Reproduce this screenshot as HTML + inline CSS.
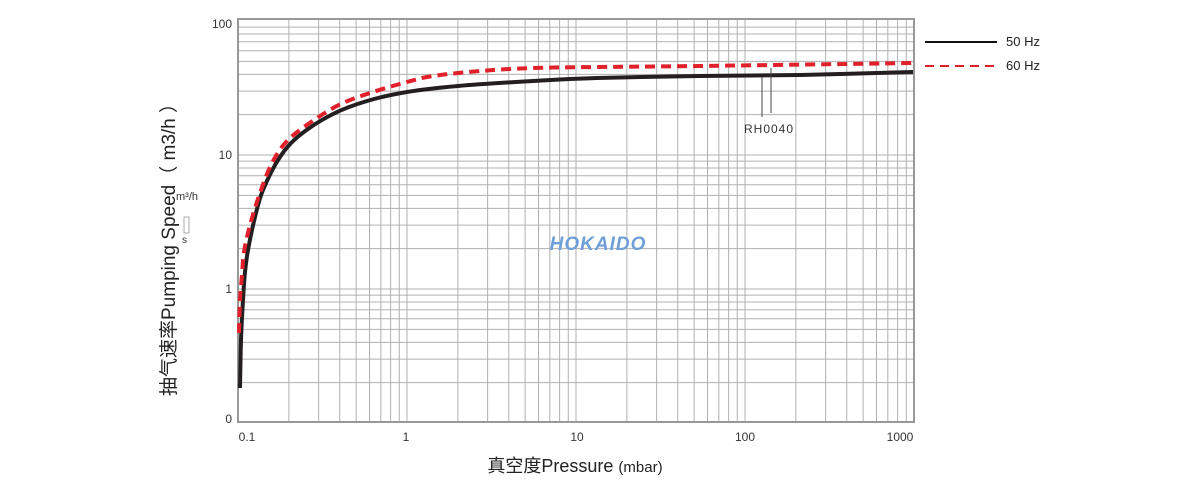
<!DOCTYPE html>
<html><head><meta charset="utf-8"><style>
html,body{margin:0;padding:0;background:#fff;}
svg{display:block;font-family:"Liberation Sans","Noto Sans CJK SC",sans-serif;}
</style></head><body>
<svg id="s" width="1200" height="497" viewBox="0 0 1200 497" xmlns="http://www.w3.org/2000/svg">
<g id="grid" stroke="#b0b0b0" stroke-width="1" fill="none"></g>
<rect x="238" y="19" width="676" height="403" fill="none" stroke="#999" stroke-width="2"/>
<text x="598" y="250" font-size="19" font-weight="bold" font-style="italic" fill="#6f9fd8" text-anchor="middle" letter-spacing="1">HOKAIDO</text>
<path id="pb" fill="none" stroke="#231f20" stroke-width="4" stroke-linejoin="round"/>
<path id="pr" fill="none" stroke="#e0202a" stroke-width="4" stroke-dasharray="10,6" stroke-linejoin="round"/>
<line x1="762" y1="77" x2="762" y2="117" stroke="#444" stroke-width="1"/>
<line x1="771" y1="68" x2="771" y2="113" stroke="#444" stroke-width="1"/>
<text x="769" y="133" font-size="12" fill="#333" text-anchor="middle" letter-spacing="1">RH0040</text>
<line x1="925" y1="42" x2="997" y2="42" stroke="#111" stroke-width="2"/>
<text x="1006" y="46" font-size="13" fill="#222">50 Hz</text>
<line x1="925" y1="66" x2="997" y2="66" stroke="#e0202a" stroke-width="2" stroke-dasharray="9,6"/>
<text x="1006" y="70" font-size="13" fill="#222">60 Hz</text>
<g font-size="12" fill="#333" text-anchor="end">
<text x="232" y="28">100</text><text x="232" y="159">10</text><text x="232" y="293">1</text><text x="232" y="423">0</text>
</g>
<g font-size="12" fill="#333" text-anchor="middle">
<text x="247" y="441">0.1</text><text x="406" y="441">1</text><text x="577" y="441">10</text><text x="745" y="441">100</text><text x="900" y="441">1000</text>
</g>
<text x="575" y="472" font-size="18" fill="#222" text-anchor="middle">真空度Pressure <tspan font-size="15">(mbar)</tspan></text>
<text transform="translate(175,245) rotate(-90)" font-size="19" fill="#222" text-anchor="middle">抽气速率Pumping Speed（ m3/h ）</text>
<text x="176" y="200" font-size="11" fill="#333">m³/h</text>
<rect x="184" y="217" width="5" height="16" fill="none" stroke="#888" stroke-width="0.7"/>
<text x="182" y="243" font-size="10" fill="#333">s</text>
</svg>
<script>
var g=document.getElementById('grid'),L=238,D=169,Y1=289,DY=134,s='';
for(var d=-1;d<3;d++)for(var m=1;m<10;m++){var x=L+D*(d+1+Math.log10(m));if(x>L+1)s+='<line x1="'+x+'" y1="19" x2="'+x+'" y2="422"/>';}
for(var d=-1;d<2;d++)for(var m=1;m<10;m++){var y=Y1-DY*(d+Math.log10(m));if(y<421&&y>20)s+='<line x1="238" y1="'+y+'" x2="914" y2="'+y+'"/>';}
g.innerHTML=s;
function cr(p){var d='M'+p[0][0]+','+p[0][1];for(var i=0;i<p.length-1;i++){var a=p[Math.max(i-1,0)],b=p[i],c=p[i+1],e=p[Math.min(i+2,p.length-1)];
d+=' C'+(b[0]+(c[0]-a[0])/6)+','+(b[1]+(c[1]-a[1])/6)+' '+(c[0]-(e[0]-b[0])/6)+','+(c[1]-(e[1]-b[1])/6)+' '+c[0]+','+c[1];}return d;}
var B=[[240,388],[241,340],[243,300],[245,272],[248,250],[255,217],[263,190],[280,157],[300,135],[333,114],[367,101],[407,92],[458,86],[533,81],[597,78],[700,76],[800,75],[913,72]];
var R=[[239,333],[240,300],[242,275],[244,252],[250,225],[260,193],[272,163],[288,140],[317,118],[343,103],[373,92],[407,82],[433,76],[480,71],[533,68],[597,67],[700,66],[913,63]];
document.getElementById('pb').setAttribute('d',cr(B));
document.getElementById('pr').setAttribute('d',cr(R));
</script>
</body></html>
